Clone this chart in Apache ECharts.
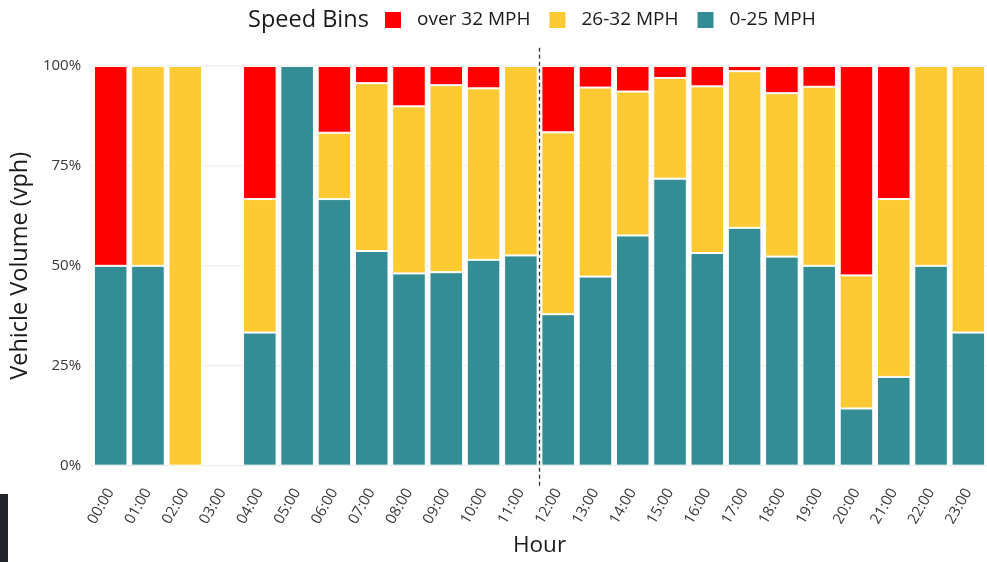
<!DOCTYPE html>
<html>
<head>
<meta charset="utf-8">
<script src="https://cdn.jsdelivr.net/npm/echarts@6/dist/echarts.min.js"></script>
<style>
html,body{margin:0;padding:0;background:#fff;}
#chart{width:987px;height:562px;}
</style>
</head>
<body>
<div id="chart"></div>
<script>
const hours = ['00:00','01:00','02:00','03:00','04:00','05:00','06:00','07:00','08:00','09:00','10:00','11:00',
  '12:00','13:00','14:00','15:00','16:00','17:00','18:00','19:00','20:00','21:00','22:00','23:00'];
// percent share of vehicles per hour
const slow = [50,50,0,0,33.3,100,66.7,53.7,48.1,48.4,51.5,52.6,37.9,47.3,57.6,71.8,53.2,59.5,52.3,50.0,14.3,22.2,50,33.3];
const mid  = [0,50,100,0,33.4,0,16.6,42.0,41.8,46.8,42.9,47.4,45.5,47.3,36.0,25.2,41.7,39.2,40.9,44.8,33.3,44.5,50,66.7];
const fast = [50,0,0,0,33.3,0,16.7,4.3,10.1,4.8,5.6,0,16.6,5.4,6.4,3.0,5.1,1.3,6.8,5.2,52.4,33.3,0,0];
const seriesNames = ['over 32 MPH','26-32 MPH','0-25 MPH'];
const yTicks = [0,25,50,75,100];
const splitHour = 11.5;

const fontFam = '"Open Sans", "Noto Sans", sans-serif';
const nz = a => a.map(v => v === 0 ? null : v);

const chart = echarts.init(document.getElementById('chart'), null, {renderer:'canvas'});

const gridSeries = yTicks.map(t => ({
  type:'line', xAxisIndex:1, yAxisIndex:0, silent:true, clip:false, z:0,
  symbol:'none', data:[[-0.6,t],[23.6,t]],
  lineStyle:{color:'#ebebeb', width:1}, tooltip:{show:false}
}));

const barStyle = (c) => ({color:c, borderColor:'#ffffff', borderWidth:1});

chart.setOption({
  animation:false,
  textStyle:{fontFamily:fontFam},
  title:{text:'Speed Bins', left:243, top:3, textStyle:{fontSize:23.5, fontWeight:'normal', color:'#1a1a1a', fontFamily:fontFam}},
  legend:{
    data:seriesNames, left:378, top:5, itemWidth:18, itemHeight:18, itemGap:17, icon:'rect',
    textStyle:{fontSize:19, color:'#1a1a1a', fontFamily:fontFam, padding:[0,0,0,10]}
  },
  grid:{left:91, top:46, width:897.6, height:442, containLabel:false},
  xAxis:[{
    type:'category', data:hours, boundaryGap:true,
    axisLine:{show:false}, axisTick:{show:false},
    axisLabel:{rotate:60, fontSize:15, color:'#383838', margin:4, interval:0, fontFamily:fontFam},
    name:'Hour', nameLocation:'middle', nameGap:47,
    nameTextStyle:{fontSize:22.5, color:'#1a1a1a', fontFamily:fontFam}
  },{
    type:'value', min:-0.5, max:23.5, show:false
  }],
  yAxis:[{
    type:'value', min:-5, max:105, interval:5,
    axisLine:{show:false}, axisTick:{show:false}, splitLine:{show:false},
    axisLabel:{fontSize:15, color:'#383838', margin:11, fontFamily:fontFam,
      formatter:v => (yTicks.indexOf(Math.round(v)) >= 0 && Math.abs(v - Math.round(v)) < 1e-6) ? Math.round(v)+'%' : ''},
    name:'Vehicle Volume (vph)', nameLocation:'middle', nameGap:45,
    nameTextStyle:{fontSize:23.5, color:'#1a1a1a', fontFamily:fontFam}
  }],
  graphic:[{type:'rect', left:0, top:494, shape:{width:8, height:68}, style:{fill:'#24242b'}, silent:true}],
  series:[
    ...gridSeries,
    {name:'0-25 MPH', type:'bar', stack:'s', barWidth:'90%', data:nz(slow), itemStyle:barStyle('#348C94'), z:2},
    {name:'26-32 MPH', type:'bar', stack:'s', barWidth:'90%', data:nz(mid), itemStyle:barStyle('#FDCA33'), z:2},
    {name:'over 32 MPH', type:'bar', stack:'s', barWidth:'90%', data:nz(fast), itemStyle:barStyle('#FF0000'), z:2},
    {type:'line', xAxisIndex:1, yAxisIndex:0, symbol:'none', silent:true, z:5, clip:false,
      data:[[splitHour,-5],[splitHour,105]],
      lineStyle:{color:'#333333', width:1.3, type:[4,3]}}
  ]
});
</script>
</body>
</html>
